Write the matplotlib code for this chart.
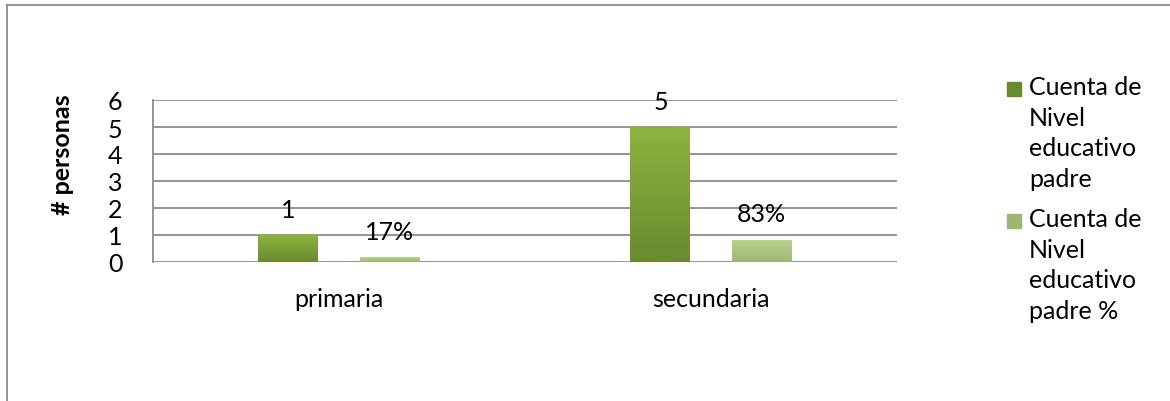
import matplotlib.pyplot as plt
import matplotlib.lines as mlines
import matplotlib.colors as mcolors
import numpy as np

categorias = ["primaria", "secundaria"]
cuenta = [1, 5]
porcentaje = [0.17, 0.83]
etiquetas_cuenta = ["1", "5"]
etiquetas_pct = ["17%", "83%"]
leyenda = ["Cuenta de\nNivel\neducativo\npadre", "Cuenta de\nNivel\neducativo\npadre %"]

plt.rcParams['font.family'] = ['Lato', 'DejaVu Sans']
FS = 18

oscuro = ("#8db33f", "#6a8a2f")
claro = ("#b9d48c", "#9db676")


def barra_degradado(ax, bars, colores):
    """Rellena cada barra con un degradado vertical."""
    cmap = mcolors.LinearSegmentedColormap.from_list("g", [colores[1], colores[0]])
    grad = np.linspace(0, 1, 64).reshape(-1, 1)
    for b in bars:
        x, y = b.get_x(), b.get_y()
        w, h = b.get_width(), b.get_height()
        im = ax.imshow(grad, cmap=cmap, origin="lower", aspect="auto",
                       extent=(x, x + w, y, y + h), zorder=3)
        im.set_clip_path(b)


fig = plt.figure(figsize=(11.7, 4.02), dpi=100)
ax = fig.add_axes([153 / 1170, 1 - 263 / 402, 744 / 1170, 162 / 402])

x = np.arange(len(categorias))
ancho = 0.161
desp = 0.136

b1 = ax.bar(x - desp, cuenta, ancho, color=oscuro[0], zorder=2)
b2 = ax.bar(x + desp, porcentaje, ancho, color=claro[0], zorder=2)
barra_degradado(ax, b1, oscuro)
barra_degradado(ax, b2, claro)

for xi, v, t in zip(x - desp, cuenta, etiquetas_cuenta):
    ax.text(xi, v + 0.95, t, ha="center", va="center", fontsize=FS)
for xi, v, t in zip(x + desp, porcentaje, etiquetas_pct):
    ax.text(xi, v + 0.95, t, ha="center", va="center", fontsize=FS)

ax.set_xlim(-0.5, 1.5)
ax.set_ylim(0, 6)
ax.set_yticks(range(7))
ax.set_xticks(x)
ax.set_xticklabels(categorias, fontsize=FS)
ax.tick_params(axis="y", length=0, pad=22, labelsize=FS)
ax.tick_params(axis="x", length=0, pad=18)
ax.grid(axis="y", color="#8c8c8c", linewidth=1.3, zorder=0)
ax.set_axisbelow(True)
for s in ["top", "right", "bottom"]:
    ax.spines[s].set_visible(False)
ax.spines["left"].set_color("#8c8c8c")
ax.spines["left"].set_linewidth(1.3)

fig.text(62 / 1170, 1 - 155 / 402, "# personas", rotation=90, ha="center",
         va="center", fontsize=FS, fontweight="bold")

# leyenda
for i, (txt, col) in enumerate(zip(leyenda, [oscuro, claro])):
    ytop = 1 - (82 + i * 132) / 402
    fig.patches.append(plt.Rectangle((1007 / 1170, ytop - 15 / 402), 14 / 1170, 14 / 402,
                                     transform=fig.transFigure, color=col[1]))
    fig.text(1029 / 1170, ytop + 6 / 402, txt, ha="left", va="top", fontsize=FS,
             linespacing=1.4)

# marco
fig.add_artist(mlines.Line2D([7 / 1170, 7 / 1170], [0, 1 - 6 / 402], color="#8c8c8c",
                             lw=1.3, transform=fig.transFigure))
fig.add_artist(mlines.Line2D([7 / 1170, 1], [1 - 6 / 402, 1 - 6 / 402], color="#8c8c8c",
                             lw=1.3, transform=fig.transFigure))

fig.savefig("out.png", dpi=100)
